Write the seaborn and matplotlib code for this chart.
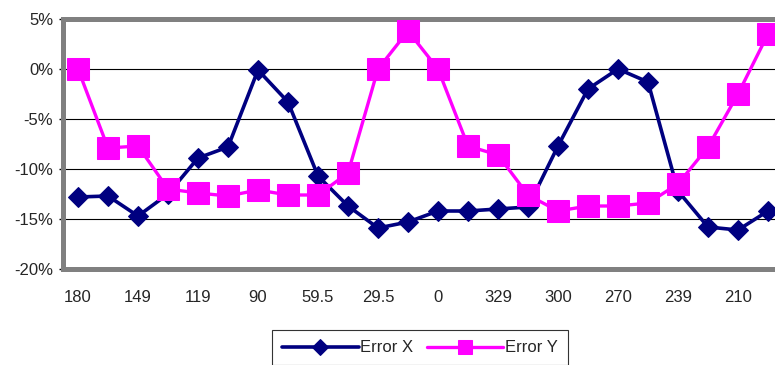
import matplotlib
matplotlib.use("Agg")
import matplotlib.pyplot as plt
from matplotlib.ticker import FuncFormatter
import seaborn as sns
import pandas as pd

# angle categories (only every other one is labelled on the axis)
angles = [180, 164.5, 149, 134, 119, 104.5, 90, 75, 59.5, 44.5, 29.5, 14.5,
          0, 344.5, 329, 314.5, 300, 285, 270, 254.5, 239, 224.5, 210, 195]

# errors in percent
error_x = [-12.8, -12.7, -14.7, -12.5, -8.9, -7.8, -0.1, -3.3, -10.7, -13.7, -15.9, -15.3,
           -14.2, -14.2, -14.0, -13.8, -7.7, -2.0, 0.0, -1.3, -12.2, -15.8, -16.1, -14.2]
error_y = [0.0, -7.9, -7.7, -12.0, -12.4, -12.7, -12.1, -12.6, -12.6, -10.4, 0.0, 3.8,
           0.0, -7.7, -8.6, -12.6, -14.2, -13.7, -13.7, -13.4, -11.5, -7.8, -2.5, 3.5]

y_ticks = [5, 0, -5, -10, -15, -20]

sns.set_style("white")
plt.rcParams['font.family'] = ['Liberation Sans', 'DejaVu Sans']
plt.rcParams['axes.unicode_minus'] = False

df = pd.DataFrame({"pos": range(len(angles)), "Error X": error_x, "Error Y": error_y})

fig = plt.figure(figsize=(7.75, 3.65), dpi=100)
ax = fig.add_axes([63/775, 1 - 269/365, 720/775, 250/365])

sns.lineplot(data=df, x="pos", y="Error X", ax=ax, color="#000080", lw=2.6,
             marker="D", markersize=10, markeredgecolor="#000080", label="Error X", zorder=3)
sns.lineplot(data=df, x="pos", y="Error Y", ax=ax, color="#FF00FF", lw=2.4,
             marker="s", markersize=16, markeredgecolor="#FF00FF", label="Error Y", zorder=4)

ax.set_xlim(-0.5, len(angles) - 0.5)
ax.set_ylim(-20, 5)
ax.set_yticks(y_ticks)
ax.yaxis.set_major_formatter(FuncFormatter(lambda v, p: f"{v:.0f}%"))
ax.set_xticks(range(0, len(angles), 2))
ax.set_xticklabels([f"{a:g}" for a in angles[::2]])
ax.set_xlabel("")
ax.set_ylabel("")

ax.grid(axis="y", color="black", lw=0.8)
ax.set_axisbelow(True)
for s in ["top", "bottom", "left"]:
    ax.spines[s].set_color("#808080")
    ax.spines[s].set_linewidth(3.6)
ax.spines["right"].set_visible(False)

ax.tick_params(axis="y", length=3, width=1, color="black", pad=4, labelsize=12)
ax.tick_params(axis="x", length=0, pad=15, labelsize=12)
ax.yaxis.set_ticks_position("left")

ax.get_legend().remove()
leg = fig.legend(loc="upper center", bbox_to_anchor=(420/775, 1 - 322/365), ncol=2,
                 frameon=True, fancybox=False, edgecolor="#333333", framealpha=1,
                 handlelength=4.6, handletextpad=0.1, columnspacing=0.8,
                 fontsize=12, borderpad=0.6)
leg.get_frame().set_linewidth(0.8)
for line, ms in zip(leg.get_lines(), [8, 10]):
    line.set_markersize(ms)

fig.savefig("out.png", dpi=100)
